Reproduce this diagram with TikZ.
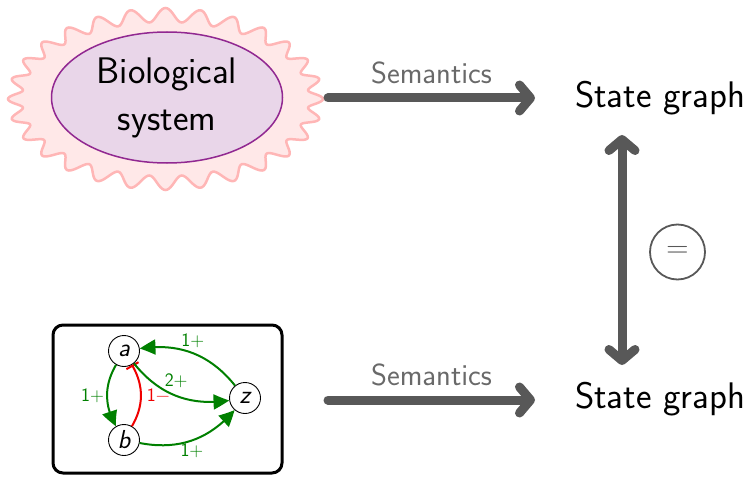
\documentclass[tikz,border=0pt]{standalone}
\usepackage{fontspec}
\usetikzlibrary{arrows.meta,bending,shapes.geometric}

\definecolor{actgreen}{RGB}{0,128,0}
\definecolor{inhred}{RGB}{240,0,0}
\definecolor{flowgrey}{RGB}{88,88,88}
\definecolor{labelgrey}{RGB}{105,105,105}
\definecolor{burstfill}{RGB}{255,232,232}
\definecolor{burstline}{RGB}{255,182,182}
\definecolor{cellfill}{RGB}{233,214,233}
\definecolor{cellline}{RGB}{145,40,145}

\begin{document}
\begin{tikzpicture}[x=1pt,y=-1pt,
  bigtext/.style={font=\fontsize{37}{47}\selectfont\sffamily},
  semlabel/.style={font=\fontsize{30.5}{34}\selectfont\sffamily, text=labelgrey},
  barb/.tip={Straight Barb[length=11pt,width=26pt,round]},
  flow/.style={line width=9pt, draw=flowgrey, line cap=round, -barb},
  biflow/.style={line width=9pt, draw=flowgrey, line cap=round, barb-barb},
  var/.style={circle, draw, line width=0.9pt, minimum size=31pt, inner sep=0pt,
    font=\fontsize{26}{26}\selectfont\sffamily\itshape},
  act/.style={draw=actgreen, line width=2pt, bend right=30,
    -{Triangle[length=16pt,width=15pt,bend]}},
  inh/.style={draw=inhred, line width=2pt, bend right=30, -{Bar[width=14pt]}},
  elabel/.style={font=\fontsize{19}{19}\selectfont\sffamily, inner sep=2pt}
]
\useasboundingbox (0,0) rectangle (754,476);

% wavy outline around the biological system
\filldraw[fill=burstfill, draw=burstline, line width=2.5pt]
  plot[domain=0:360, samples=561, variable=\t]
  ({165.5+(150.5+7*cos(28*\t))*cos(\t)}, {99+(84+7*cos(28*\t))*sin(\t)}) -- cycle;
\coordinate (burstE) at (328,98);

\node (bio) [ellipse, draw=cellline, fill=cellfill, line width=1.5pt,
  minimum width=231pt, minimum height=131pt, inner sep=0pt,
  bigtext, align=center] at (167,97.5) {Biological\\system};

% state graphs
\node (sg1) [bigtext, anchor=base] at (660,107) {State graph};
\node (sg2) [bigtext, anchor=base] at (660,408) {State graph};

% semantics arrows
\coordinate (tip1) at (535,98);
\draw[flow] (burstE) -- node[semlabel, above=6pt] {Semantics} (tip1);

% regulatory network
\node (model) [draw, line width=3pt, rounded corners=10pt,
  minimum width=229pt, minimum height=148pt] at (167.5,399) {};
\node[var] (a) at (124,351) {a};
\node[var] (b) at (124,440) {b};
\node[var] (z) at (245,398) {z};

\draw[act] (a) to node[elabel, left, text=actgreen] {1+} (b);
\draw[inh] (b) to node[elabel, right=3pt, text=inhred] {1−} (a);
\draw[act] (a) to node[elabel, above=5pt, pos=0.5, text=actgreen] {2+} (z);
\draw[act] (z) to node[elabel, above=2pt, text=actgreen] {1+} (a);
\draw[act] (b) to node[elabel, below, text=actgreen] {1+} (z);

\coordinate (src2) at (328,400);
\coordinate (tip2) at (535,400);
\draw[flow] (src2) -- node[semlabel, above=6pt] {Semantics} (tip2);

% equality between the two state graphs
\coordinate (eqtop) at (622,135);
\coordinate (eqbot) at (622,365);
\draw[biflow] (eqtop) -- (eqbot);
\node (eq) [circle, draw=flowgrey, line width=1.8pt, minimum size=55pt, inner sep=0pt,
  text=flowgrey, font=\fontsize{31}{31}\selectfont\sffamily] at (677.5,252) {=};
\end{tikzpicture}
\end{document}
